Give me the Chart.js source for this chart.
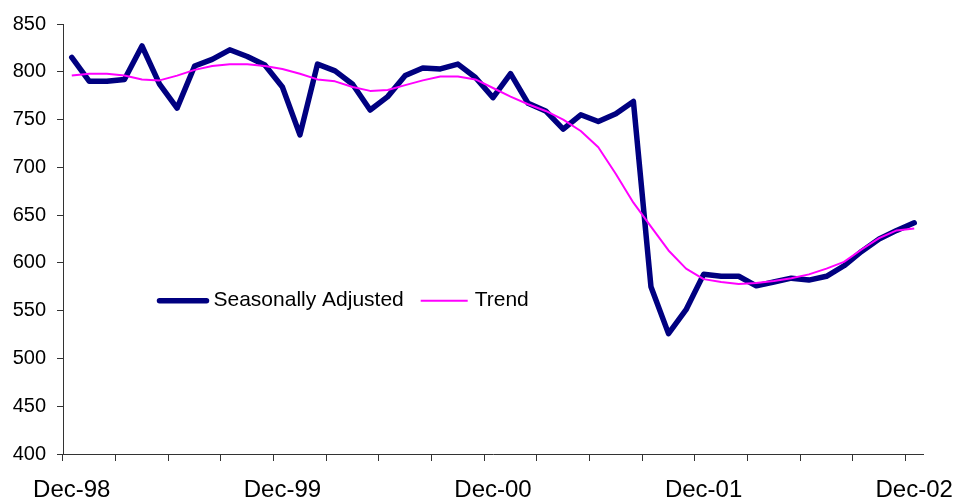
<!DOCTYPE html>
<html>
<head>
<meta charset="utf-8">
<title>Seasonally Adjusted and Trend</title>
<script src="https://cdn.jsdelivr.net/npm/chart.js@4/dist/chart.umd.min.js"></script>
<style>
  html, body { margin: 0; padding: 0; background: #fff; }
  #wrap { width: 955px; height: 502px; }
</style>
</head>
<body>
<div id="wrap"><canvas id="chart" width="955" height="502"></canvas></div>
<script>
// Monthly categories, Dec-98 to Dec-02
const months = ['Dec-98',
  'Jan-99','Feb-99','Mar-99','Apr-99','May-99','Jun-99','Jul-99','Aug-99','Sep-99','Oct-99','Nov-99','Dec-99',
  'Jan-00','Feb-00','Mar-00','Apr-00','May-00','Jun-00','Jul-00','Aug-00','Sep-00','Oct-00','Nov-00','Dec-00',
  'Jan-01','Feb-01','Mar-01','Apr-01','May-01','Jun-01','Jul-01','Aug-01','Sep-01','Oct-01','Nov-01','Dec-01',
  'Jan-02','Feb-02','Mar-02','Apr-02','May-02','Jun-02','Jul-02','Aug-02','Sep-02','Oct-02','Nov-02','Dec-02'];

// Labels shown under the axis
const xTickLabels = ['Dec-98', 'Dec-99', 'Dec-00', 'Dec-01', 'Dec-02'];

const seasonallyAdjusted = [815,
  790, 790, 792, 827, 787, 762, 806, 813, 823, 816, 807, 784,
  734, 808, 801, 787, 760, 774, 796, 804, 803, 808, 794, 773,
  798, 767, 759, 740, 755, 748, 756, 769, 575, 526, 551, 588,
  586, 586, 576, 580, 584, 582, 586, 597, 612, 625, 634, 642];

const trend = [796,
  798, 798, 796, 792, 791, 796, 802, 806, 808, 808, 806, 803,
  798, 792, 790, 784, 780, 781, 786, 791, 795, 795, 792, 783,
  774, 766, 759, 750, 738, 721, 693, 663, 638, 613, 594, 583,
  580, 578, 579, 581, 584, 588, 594, 601, 614, 626, 634, 636];

const yTicks = { min: 400, max: 850, step: 50 };

const axisColor = '#333333';

// Legend drawn inside the plot area
const inlineLegend = {
  id: 'inlineLegend',
  afterDatasetsDraw(chart, args, opts) {
    const ctx = chart.ctx;
    const area = chart.chartArea;
    const y = area.top + opts.offsetY;
    ctx.save();
    ctx.font = opts.font;
    ctx.textBaseline = 'middle';
    ctx.textAlign = 'left';
    chart.data.datasets.forEach((ds, i) => {
      const x = area.left + opts.itemX[i];
      ctx.beginPath();
      ctx.moveTo(x, y);
      ctx.lineTo(x + opts.sampleLength, y);
      ctx.strokeStyle = ds.borderColor;
      ctx.lineWidth = ds.borderWidth;
      ctx.lineCap = ds.borderCapStyle || 'butt';
      ctx.stroke();
      ctx.fillStyle = opts.color;
      ctx.fillText(ds.label, x + opts.sampleLength + opts.gap, y);
    });
    ctx.restore();
  }
};

new Chart(document.getElementById('chart'), {
  type: 'line',
  data: {
    labels: months,
    datasets: [
      {
        label: 'Seasonally Adjusted',
        data: seasonallyAdjusted,
        borderColor: '#000080',
        backgroundColor: '#000080',
        borderWidth: 5.5,
        borderCapStyle: 'round',
        borderJoinStyle: 'round',
        pointRadius: 0,
        tension: 0,
        order: 1
      },
      {
        label: 'Trend',
        data: trend,
        borderColor: '#FF00FF',
        backgroundColor: '#FF00FF',
        borderWidth: 2,
        borderJoinStyle: 'round',
        pointRadius: 0,
        tension: 0,
        order: 0
      }
    ]
  },
  options: {
    responsive: false,
    devicePixelRatio: 1,
    animation: false,
    layout: { padding: { top: 24, right: 32, left: 0, bottom: 0 } },
    plugins: {
      legend: { display: false },
      tooltip: { enabled: false },
      inlineLegend: {
        font: '21px "Liberation Sans", Arial, sans-serif',
        color: '#000000',
        offsetY: 276.7,
        itemX: [96.5, 357.7],
        sampleLength: 47,
        gap: 7
      }
    },
    scales: {
      x: {
        type: 'category',
        offset: true,
        afterFit(scale) {
          scale.height = 48;
          // end labels may overhang the plot edges
          scale.paddingLeft = 0;
          scale.paddingRight = 0;
        },
        border: { display: true, color: axisColor, width: 1 },
        grid: {
          offset: true,
          drawOnChartArea: false,
          drawTicks: true,
          tickLength: 7,
          tickWidth: 1,
          color: axisColor,
          tickColor: (ctx) => (ctx.index !== undefined && ctx.index % 3 === 0) ? axisColor : 'rgba(0,0,0,0)'
        },
        ticks: {
          autoSkip: false,
          maxRotation: 0,
          minRotation: 0,
          padding: 15,
          color: '#000000',
          font: { family: '"Liberation Sans", Arial, sans-serif', size: 24 },
          callback: (value, index) => xTickLabels.includes(months[index]) ? months[index] : ''
        }
      },
      y: {
        min: yTicks.min,
        max: yTicks.max,
        afterFit(scale) { scale.width = 63; },
        border: { display: true, color: axisColor, width: 1 },
        grid: {
          drawOnChartArea: false,
          drawTicks: true,
          tickLength: 6,
          color: axisColor,
          tickColor: axisColor
        },
        ticks: {
          stepSize: yTicks.step,
          padding: 11,
          color: '#000000',
          font: { family: '"Liberation Sans", Arial, sans-serif', size: 20 }
        }
      }
    }
  },
  plugins: [inlineLegend]
});
</script>
</body>
</html>
